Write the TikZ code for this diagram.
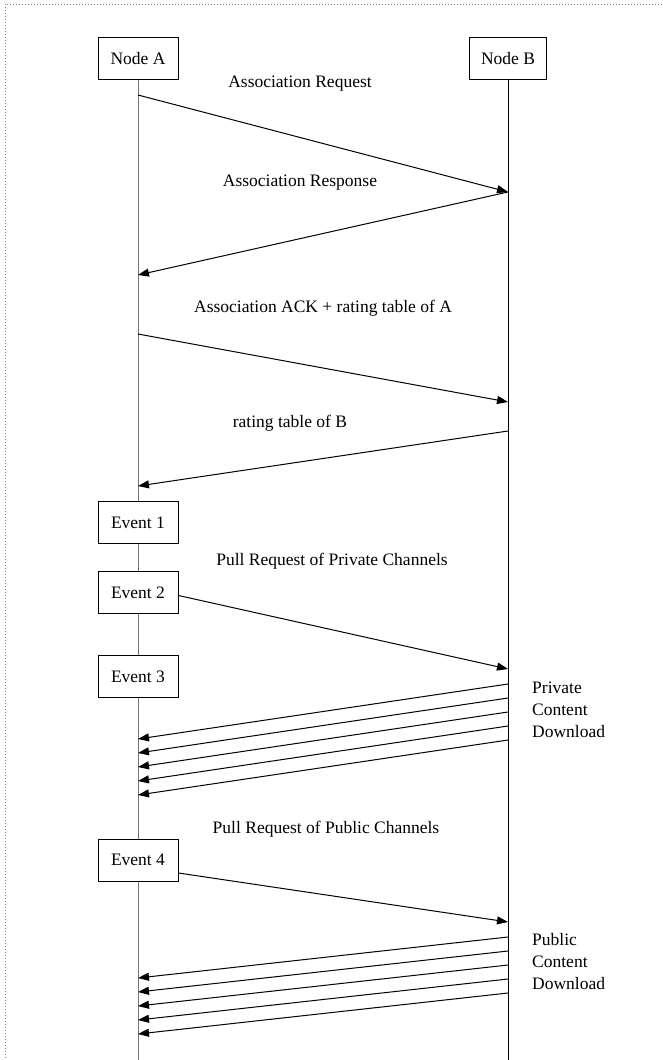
\documentclass[tikz,border=0pt]{standalone}
\usepackage{fontspec}
\setmainfont{Liberation Serif}
\usetikzlibrary{arrows.meta, positioning}

\begin{document}
\begin{tikzpicture}[x=1pt, y=-1pt,
    box/.style={draw, line width=1pt, minimum width=80pt, minimum height=42pt, inner sep=0pt, font=\fontsize{17.5}{22}\selectfont},
    lbl/.style={inner sep=0pt, font=\fontsize{17.5}{22}\selectfont},
    msg/.style={line width=1pt, -{Triangle[length=11pt, width=8pt]}},
    lifeA/.style={line width=1pt, black!55},
    lifeB/.style={line width=1pt}
    ]

    % Frame
    \useasboundingbox (0,0) rectangle (662,1060);
    \draw[gray, dotted, line width=1pt] (662,4) -- (5,4) -- (5,1060);

    % Participants and events
    \node[box] (nodeA) at (138,58.5) {Node A};
    \node[box, minimum width=77pt] (nodeB) at (508,58.5) {Node B};
    \node[box] (ev1) at (138,522.5) {Event 1};
    \node[box] (ev2) at (138,592.5) {Event 2};
    \node[box] (ev3) at (138,676.5) {Event 3};
    \node[box] (ev4) at (138,860) {Event 4};

    % Lifelines
    \coordinate (endA) at (138,1060);
    \coordinate (endB) at (508,1060);
    \draw[lifeA] (nodeA.south) -- (ev1.north);
    \draw[lifeA] (ev1.south) -- (ev2.north);
    \draw[lifeA] (ev2.south) -- (ev3.north);
    \draw[lifeA] (ev3.south) -- (ev4.north);
    \draw[lifeA] (ev4.south) -- (endA);
    \draw[lifeB] (nodeB.south) -- (endB);

    % Association
    \coordinate (a1) at (138,95);
    \coordinate (b1) at (508,192);
    \coordinate (a2) at (138,275);
    \coordinate (a3) at (138,334);
    \coordinate (b3) at (508,402);
    \coordinate (b4) at (508,431);
    \coordinate (a4) at (138,486);
    \draw[msg] (a1) -- (b1);
    \draw[msg] (b1) -- (a2);
    \draw[msg] (a3) -- (b3);
    \draw[msg] (b4) -- (a4);

    \node[lbl] (req) at (300,84) {Association Request};
    \node[lbl] (resp) at (300,183) {Association Response};
    \node[lbl] (ack) at (323,308) {Association ACK + rating table of A};
    \node[lbl] (rtb) at (290,423) {rating table of B};

    % Private channels
    \node[lbl] (pullpriv) at (332,561) {Pull Request of Private Channels};
    \coordinate (b5) at (508,669);
    \draw[msg] ([yshift=-3pt]ev2.east) -- (b5);
    \foreach \i in {0,...,4} {
        \coordinate (bpv\i) at (508,684+14*\i);
        \coordinate (apv\i) at (138,739+14*\i);
        \draw[msg] (bpv\i) -- (apv\i);
    }
    \node[lbl, anchor=west, align=left] (privdl) at (532,710) {Private\\Content\\Download};

    % Public channels
    \node[lbl] (pullpub) at (326,829) {Pull Request of Public Channels};
    \coordinate (b6) at (508,922);
    \draw[msg] ([yshift=-13pt]ev4.east) -- (b6);
    \foreach \i in {0,...,4} {
        \coordinate (bpb\i) at (508,937+14*\i);
        \coordinate (apb\i) at (138,978+14*\i);
        \draw[msg] (bpb\i) -- (apb\i);
    }
    \node[lbl, anchor=west, align=left] (pubdl) at (532,962) {Public\\Content\\Download};

\end{tikzpicture}
\end{document}
